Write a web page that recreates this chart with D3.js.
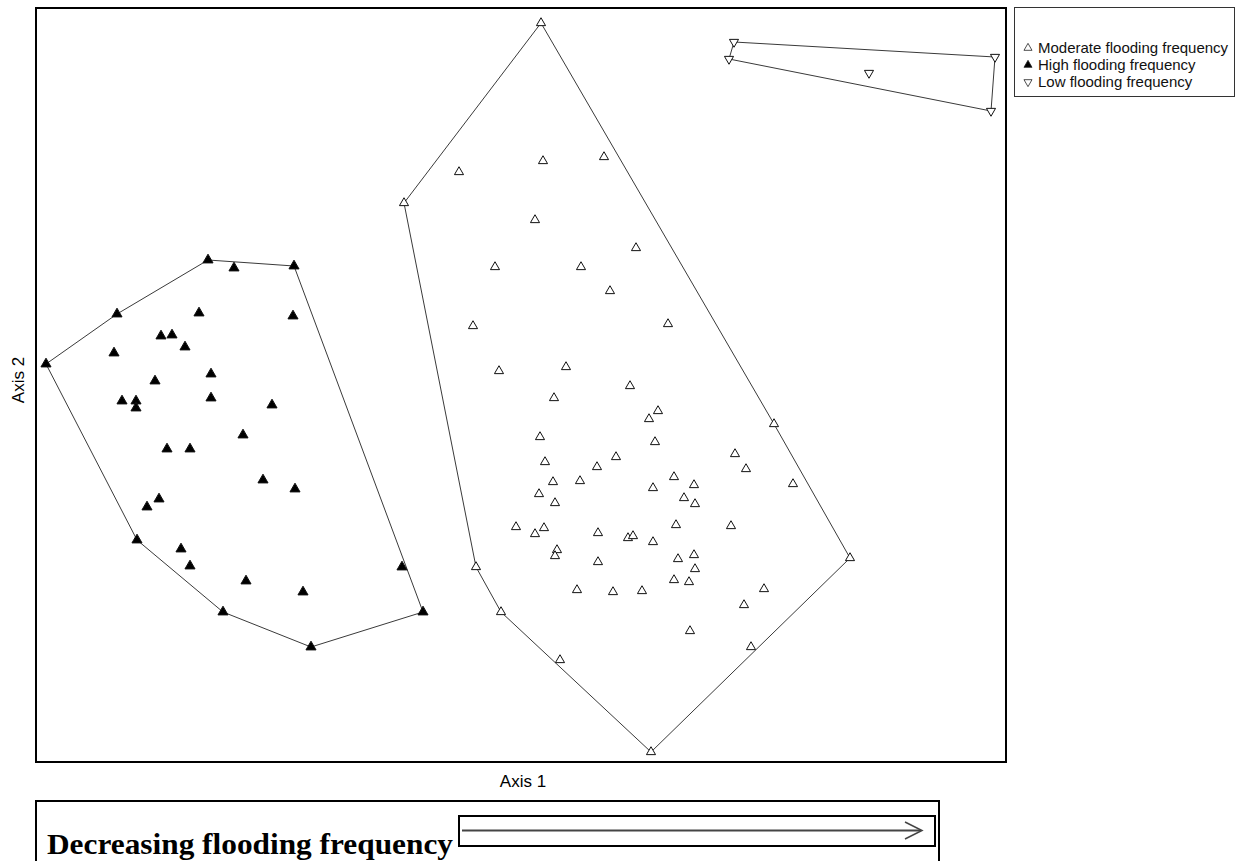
<!DOCTYPE html>
<html>
<head>
<meta charset="utf-8">
<script src="https://cdn.jsdelivr.net/npm/d3@7/dist/d3.min.js"></script>
<style>
  body { margin: 0; background: #fff; }
  svg { display: block; }
</style>
</head>
<body>
<svg id="chart" width="1237" height="861"></svg>
<script>
// ordination scores (Axis 1, Axis 2)
var highX = [-3.13,-2.87,-2.27,-4.04,-3.22,-2.28,-3.60,-3.49,-3.36,-4.07,-4.75,-3.10,-3.66,-3.99,-3.85,-3.85,-3.10,-2.49,-2.78,-3.54,-3.31,-2.58,-2.26,-3.62,-3.74,-3.84,-3.40,-3.31,-2.75,-2.18,-1.19,-2.98,-0.98,-2.10];
var highY = [1.25,1.17,1.19,0.71,0.72,0.69,0.49,0.50,0.38,0.32,0.21,0.11,0.04,-0.16,-0.16,-0.23,-0.13,-0.20,-0.50,-0.64,-0.64,-0.95,-1.04,-1.14,-1.22,-1.55,-1.64,-1.81,-1.96,-2.07,-1.82,-2.27,-2.27,-2.62];

var modX = [0.20,-1.17,-0.62,0.22,0.83,0.14,1.15,-0.26,0.60,0.89,-0.48,1.47,-0.22,0.45,1.09,0.33,1.37,1.28,2.53,0.19,1.34,0.24,0.95,0.76,2.14,2.25,0.32,0.59,1.53,1.73,1.32,2.72,0.18,1.63,1.74,0.34,-0.05,0.23,0.14,0.77,1.07,1.12,1.55,2.10,1.32,0.36,0.34,0.77,1.57,1.73,1.74,1.53,1.68,0.56,0.92,1.21,2.43,2.23,1.69,-0.45,-0.20,2.30,3.29,0.39,1.30];
var modY = [3.62,1.82,2.13,2.24,2.28,1.65,1.37,1.18,1.18,0.94,0.59,0.61,0.14,0.18,-0.01,-0.13,-0.26,-0.34,-0.39,-0.52,-0.57,-0.77,-0.72,-0.82,-0.69,-0.84,-0.97,-0.96,-0.92,-1.00,-1.03,-0.99,-1.09,-1.13,-1.19,-1.18,-1.42,-1.43,-1.49,-1.48,-1.53,-1.51,-1.40,-1.41,-1.57,-1.65,-1.71,-1.77,-1.74,-1.70,-1.84,-1.95,-1.97,-2.05,-2.07,-2.06,-2.04,-2.20,-2.46,-1.82,-2.27,-2.62,-1.73,-2.75,-3.67];

var lowX = [2.13,2.08,3.48,4.74,4.70];
var lowY = [3.43,3.26,3.12,3.28,2.74];

var legendLabels = ["Moderate flooding frequency", "High flooding frequency", "Low flooding frequency"];
var axisLabels = ["Axis 1", "Axis 2"];
var footText = "Decreasing flooding frequency";

drawChart();

function drawChart(){
	var svg = d3.select("#chart");
	var plotLeft = 36, plotRight = 1006, plotTop = 8, plotBottom = 762;

	var x = d3.scaleLinear().domain([-4.85, 4.85]).range([plotLeft, plotRight]);
	var y = d3.scaleLinear().domain([-3.77, 3.77]).range([plotBottom, plotTop]);

	function pts(xs, ys){
		return xs.map(function(v, i){ return [x(v), y(ys[i])]; });
	}

	var groups = [
		{ p: pts(modX, modY), fill: "#fff", size: 36, rot: 0 },
		{ p: pts(highX, highY), fill: "#000", size: 44, rot: 0 },
		{ p: pts(lowX, lowY), fill: "#fff", size: 36, rot: 180 }
	];

	// hulls
	groups.forEach(function(g){
		var hull = d3.polygonHull(g.p);
		svg.append("path")
			.attr("d", "M" + hull.join("L") + "Z")
			.attr("fill", "none")
			.attr("stroke", "#3a3a3a")
			.attr("stroke-width", 1);
	});

	// points
	groups.forEach(function(g){
		svg.append("g").selectAll("path")
			.data(g.p)
			.enter().append("path")
			.attr("d", d3.symbol().type(d3.symbolTriangle).size(g.size))
			.attr("transform", function(d){ return "translate(" + d[0] + "," + d[1] + ") rotate(" + g.rot + ")"; })
			.attr("fill", g.fill)
			.attr("stroke", "#111")
			.attr("stroke-width", 1);
	});

	// plot frame
	svg.append("rect").attr("x", plotLeft).attr("y", plotTop)
		.attr("width", plotRight - plotLeft).attr("height", plotBottom - plotTop)
		.attr("fill", "none").attr("stroke", "#000").attr("stroke-width", 2);

	// axis titles
	svg.append("text").attr("x", 523).attr("y", 787).attr("text-anchor", "middle")
		.attr("font-family", "Liberation Sans, Arial, sans-serif").attr("font-size", 17).text(axisLabels[0]);
	svg.append("text").attr("transform", "translate(24,380) rotate(-90)").attr("text-anchor", "middle")
		.attr("font-family", "Liberation Sans, Arial, sans-serif").attr("font-size", 17).text(axisLabels[1]);

	// legend
	var leg = svg.append("g");
	leg.append("rect").attr("x", 1014.5).attr("y", 7.5).attr("width", 220).attr("height", 89)
		.attr("fill", "#fff").attr("stroke", "#333").attr("stroke-width", 1);
	var legFill = ["#fff", "#000", "#fff"], legRot = [0, 0, 180];
	legendLabels.forEach(function(t, i){
		var yy = 53 + i * 17;
		leg.append("path")
			.attr("d", d3.symbol().type(d3.symbolTriangle).size(28))
			.attr("transform", "translate(1028," + (yy - 5) + ") rotate(" + legRot[i] + ")")
			.attr("fill", legFill[i]).attr("stroke", "#222").attr("stroke-width", 0.8);
		leg.append("text").attr("x", 1038).attr("y", yy)
			.attr("font-family", "Liberation Sans, Arial, sans-serif").attr("font-size", 15)
			.attr("fill", "#111").text(t);
	});

	// bottom box with arrow
	svg.append("rect").attr("x", 36).attr("y", 801).attr("width", 903).attr("height", 62)
		.attr("fill", "none").attr("stroke", "#000").attr("stroke-width", 2);
	svg.append("text").attr("x", 47).attr("y", 854)
		.attr("font-family", "Liberation Serif, Times New Roman, serif").attr("font-weight", "bold")
		.attr("font-size", 30).attr("textLength", 406).attr("lengthAdjust", "spacingAndGlyphs")
		.text(footText);
	svg.append("rect").attr("x", 459).attr("y", 816).attr("width", 476).attr("height", 30)
		.attr("fill", "none").attr("stroke", "#000").attr("stroke-width", 2);
	svg.append("line").attr("x1", 462).attr("x2", 921).attr("y1", 830.5).attr("y2", 830.5)
		.attr("stroke", "#444").attr("stroke-width", 2);
	svg.append("path").attr("d", "M905,822L922,830.5L905,839")
		.attr("fill", "none").attr("stroke", "#444").attr("stroke-width", 1.5);
}
</script>
</body>
</html>
